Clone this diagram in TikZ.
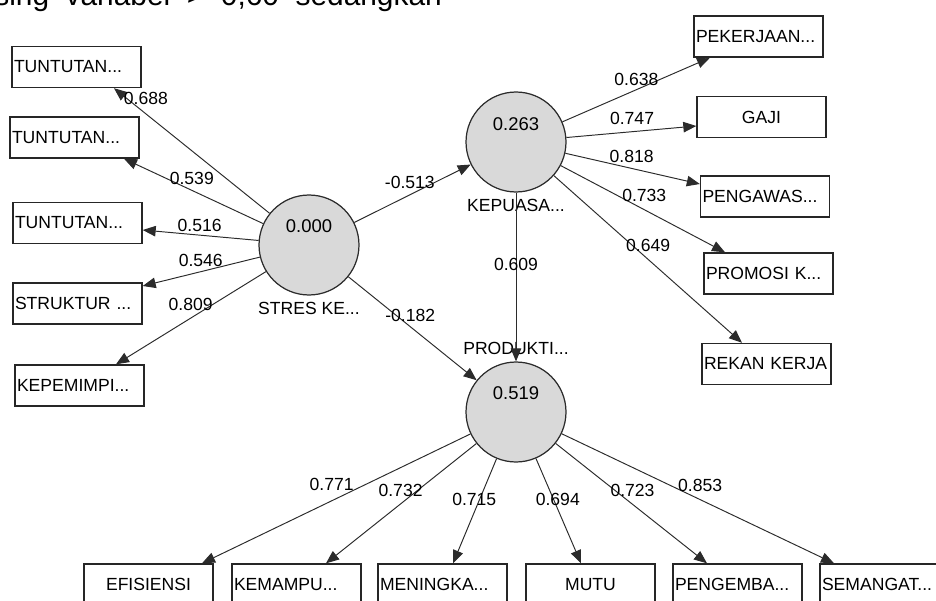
\documentclass[tikz,border=0pt]{standalone}
\usepackage{fontspec}
\setmainfont{Liberation Sans}
\usetikzlibrary{arrows.meta,positioning}
\definecolor{plsFill}{HTML}{D9D9D9}
\definecolor{plsLine}{HTML}{2B2B2B}

\begin{document}
\begin{tikzpicture}[
    x=0.02cm, y=-0.02cm,
    lv/.style={circle, draw=plsLine, line width=0.7pt, fill=plsFill,
               minimum size=2cm, inner sep=0pt},
    lvval/.style={font=\fontsize{10.5}{12}\selectfont, inner sep=0pt},
    lvname/.style={font=\fontsize{10}{12}\selectfont, inner sep=1pt},
    ind/.style={draw=black!85, line width=0.8pt, fill=white,
                minimum width=2.58cm, minimum height=0.82cm, text width=2.5cm,
                inner xsep=0.04cm, align=left, font=\fontsize{10}{12}\selectfont},
    indc/.style={ind, align=center},
    lbl/.style={font=\fontsize{10}{12}\selectfont, inner sep=0pt},
    arr/.style={-{Triangle[length=2.6mm, width=2.1mm]}, draw=plsLine, line width=0.55pt}]

    \useasboundingbox (0,0) rectangle (936,601);
    \clip (0,0) rectangle (936,601);

    % text of the page above the figure
    \node[font=\fontsize{17}{20}\selectfont, anchor=base west, inner sep=0pt] (pagetext)
        at (-6,6) {sing~~variabel~~>~~0,60~~sedangkan};

    % latent variables
    \node[lv] (stres)    at (309,245) {};
    \node[lv] (kepuasan) at (516,142) {};
    \node[lv] (produkti) at (516,412) {};
    \node[lvval] (stresval) at ([yshift=0.38cm]stres.center) {0.000};
    \node[lvval] (kepval)   at ([yshift=0.35cm]kepuasan.center) {0.263};
    \node[lvval] (prodval)  at ([yshift=0.38cm]produkti.center) {0.519};
    \node[lvname, below=0.1cm of stres]    (stresname) {STRES KE...};
    \node[lvname, below=0.1cm of kepuasan] (kepname)   {KEPUASA...};
    \node[lvname, above=0.1cm of produkti] (prodname)  {PRODUKTI...};

    % indicators of stres
    \node[ind] (tt1)       at (76.5,67)    {TUNTUTAN...};
    \node[ind] (tt2)       at (74.5,137.5) {TUNTUTAN...};
    \node[ind] (tt3)       at (77.5,223)   {TUNTUTAN...};
    \node[ind] (struktur)  at (77.5,303.5) {STRUKTUR ...};
    \node[ind] (kepemimpi) at (79.5,385.5) {KEPEMIMPI...};

    % indicators of kepuasan
    \node[ind]  (pekerjaan) at (758.5,36.5) {PEKERJAAN...};
    \node[indc] (gaji)      at (761.5,117)  {GAJI};
    \node[ind]  (pengawas)  at (765,196.5)  {PENGAWAS...};
    \node[ind]  (promosi)   at (768.5,273.5) {PROMOSI K...};
    \node[ind]  (rekan)     at (766.5,364)  {REKAN KERJA};

    % indicators of produktivitas
    \node[indc] (efisiensi) at (148.5,584.5) {EFISIENSI};
    \node[ind]  (kemampu)   at (296.5,584.5) {KEMAMPU...};
    \node[ind]  (meningka)  at (442.5,584.5) {MENINGKA...};
    \node[indc] (mutu)      at (590.5,584.5) {MUTU};
    \node[ind]  (pengemba)  at (737.5,584.5) {PENGEMBA...};
    \node[ind]  (semangat)  at (884.5,584.5) {SEMANGAT...};

    % outer loadings
    \draw[arr] (stres) -- ([xshift=0.75cm]tt1.south)
        node[lbl, pos=.843, xshift=0.15cm, yshift=0.18cm] (w1) {0.688};
    \draw[arr] (stres) -- ([xshift=0.99cm]tt2.south)
        node[lbl, pos=.545, xshift=0.09cm, yshift=0.19cm] (w2) {0.539};
    \draw[arr] (stres) -- ([yshift=-0.14cm]tt3.east)
        node[lbl, pos=.509, yshift=0.2cm] (w3) {0.516};
    \draw[arr] (stres) -- ([yshift=0.35cm]struktur.east)
        node[lbl, pos=.483, xshift=-0.05cm, yshift=0.22cm] (w4) {0.546};
    \draw[arr] (stres) -- ([xshift=0.73cm]kepemimpi.north)
        node[lbl, pos=.462, xshift=-0.12cm, yshift=0.19cm] (w5) {0.809};

    \draw[arr] (kepuasan) -- ([xshift=-0.97cm]pekerjaan.south)
        node[lbl, pos=.528, xshift=-0.08cm, yshift=0.18cm] (w6) {0.638};
    \draw[arr] (kepuasan) -- ([yshift=-0.18cm]gaji.west)
        node[lbl, pos=.513, xshift=-0.02cm, yshift=0.26cm] (w7) {0.747};
    \draw[arr] (kepuasan) -- ([yshift=0.25cm]pengawas.west)
        node[lbl, pos=.474, xshift=0.05cm, yshift=0.23cm] (w8) {0.818};
    \draw[arr] (kepuasan) -- ([xshift=-0.87cm]promosi.north)
        node[lbl, pos=.472, xshift=0.12cm, yshift=0.23cm] (w9) {0.733};
    \draw[arr] (kepuasan) -- ([xshift=-0.49cm]rekan.north)
        node[lbl, pos=.464, xshift=0.14cm, yshift=0.16cm] (w10) {0.649};

    \draw[arr] (produkti) -- ([xshift=1.07cm]efisiensi.north)
        node[lbl, pos=.493, xshift=-0.13cm, yshift=0.26cm] (w11) {0.771};
    \draw[arr] (produkti) -- ([xshift=0.59cm]kemampu.north)
        node[lbl, pos=.461, xshift=-0.13cm, yshift=0.17cm] (w12) {0.732};
    \draw[arr] (produkti) -- ([xshift=0.21cm]meningka.north)
        node[lbl, pos=.408, xshift=-0.09cm, yshift=0.04cm] (w13) {0.715};
    \draw[arr] (produkti) -- ([xshift=-0.19cm]mutu.north)
        node[lbl, pos=.407, xshift=0.07cm, yshift=0.03cm] (w14) {0.694};
    \draw[arr] (produkti) -- ([xshift=-0.61cm]pengemba.north)
        node[lbl, pos=.4615, xshift=0.14cm, yshift=0.17cm] (w15) {0.723};
    \draw[arr] (produkti) -- ([xshift=-1.01cm]semangat.north)
        node[lbl, pos=.488, xshift=0.11cm, yshift=0.23cm] (w16) {0.853};

    % path coefficients
    \draw[arr] (stres) -- (kepuasan)
        node[lbl, pos=.52, xshift=-0.1cm, yshift=0.2cm] (p1) {-0.513};
    \draw[arr] (stres) -- (produkti)
        node[lbl, pos=.439, xshift=0.11cm, yshift=0.13cm] (p2) {-0.182};
    \draw[arr] (kepuasan) -- (produkti)
        node[lbl, pos=.426] (p3) {0.609};
\end{tikzpicture}
\end{document}
